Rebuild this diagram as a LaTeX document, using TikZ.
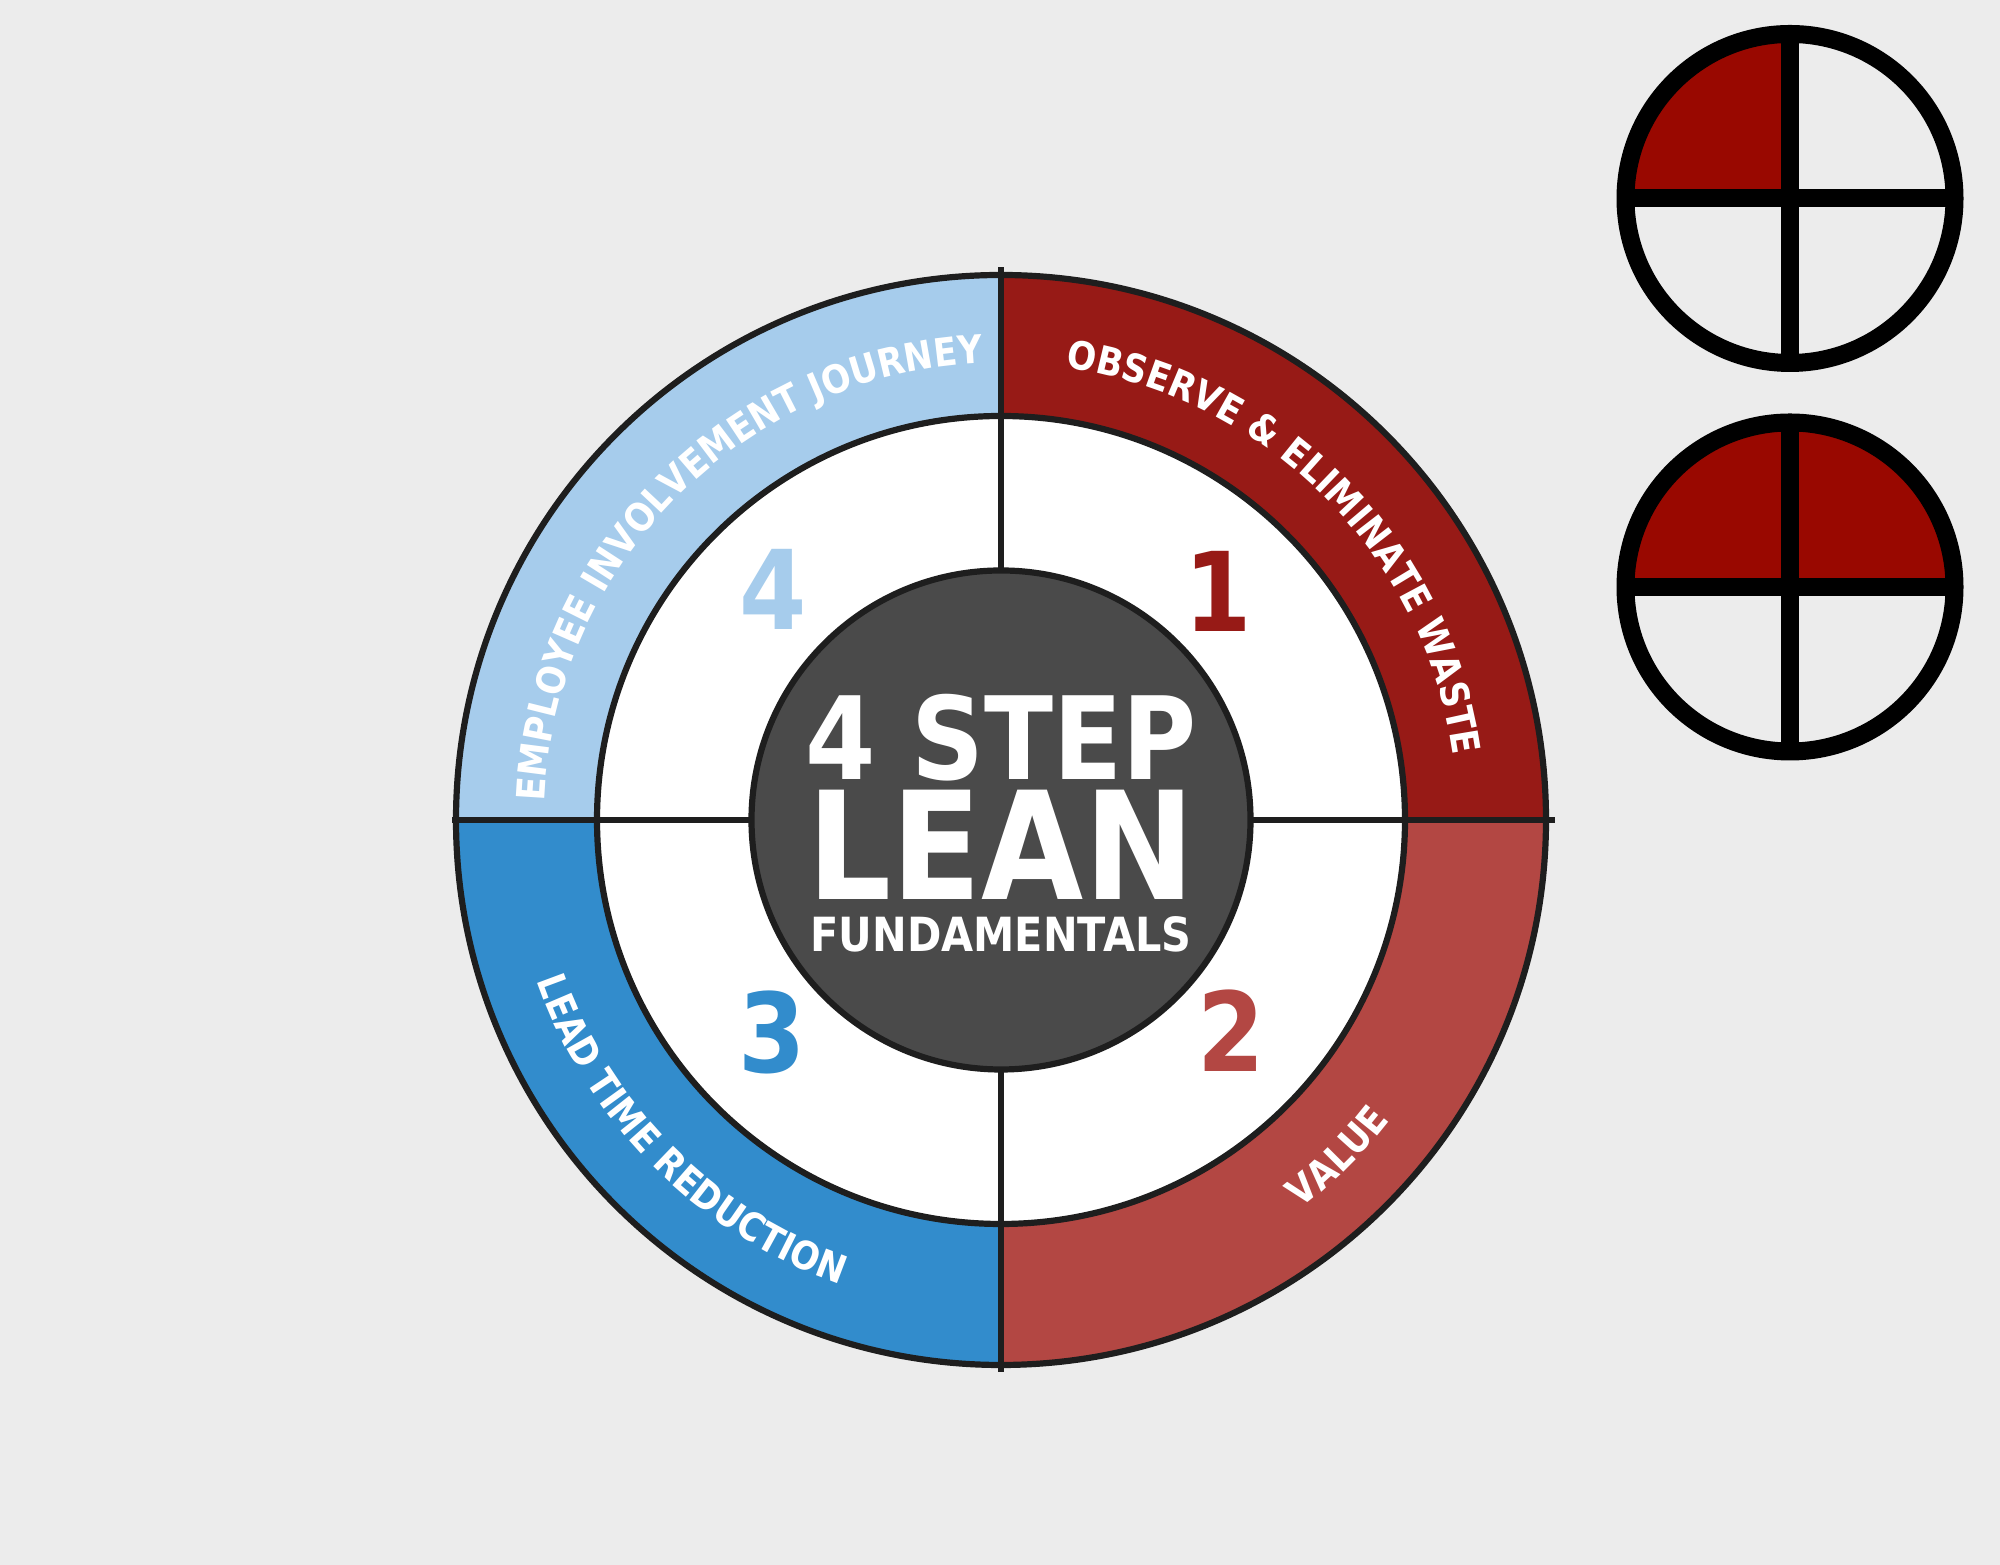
\documentclass[tikz,border=0pt]{standalone}
\definecolor{BackColor}{RGB}{236,236,236}
\definecolor{ObserveRed}{RGB}{151,26,22}
\definecolor{ValueRed}{RGB}{179,71,67}
\definecolor{LeadBlue}{RGB}{50,140,204}
\definecolor{JourneyBlue}{RGB}{166,204,236}
\definecolor{HubGray}{RGB}{74,74,74}
\definecolor{RimColor}{RGB}{30,30,30}
\definecolor{MarkRed}{RGB}{153,8,0}
\usepackage{fontspec}
\newfontfamily\leanfont[FakeStretch=0.88]{DejaVu Sans}
\usetikzlibrary{decorations.text}
\usetikzlibrary{calc}
\tikzstyle{rim} = [line width=0.062cm, RimColor]
\tikzstyle{marker} = [line width=0.18cm, black]
\tikzstyle{stepnum} = [inner sep=0pt, font=\leanfont\bfseries\fontsize{31.3}{31.3}\selectfont]
\tikzstyle{hubtext} = [inner sep=0pt, text=white]
\newcommand{\bandfont}{\leanfont\bfseries\fontsize{11.1}{11.1}\selectfont\color{white}}

\begin{document}
\begin{tikzpicture}
                \fill[BackColor] (0,0) rectangle (20,15.65);
                \coordinate (hub) at (10.01,7.45);

                % four coloured bands
                \foreach \a/\col in {0/ObserveRed, 270/ValueRed, 180/LeadBlue, 90/JourneyBlue} {
                    \fill[\col] (hub) -- ([shift={(\a:5.45)}]hub)
                         arc[start angle=\a, end angle=\a+90, radius=5.45] -- cycle;
                }
                \fill[white] (hub) circle (4.04);

                \draw[rim] ($(hub)+(-5.49,0)$) -- ($(hub)+(5.54,0)$);
                \draw[rim] ($(hub)+(0,-5.52)$) -- ($(hub)+(0,5.53)$);
                \draw[rim, fill=HubGray] (hub) circle (2.495);
                \draw[rim] (hub) circle (4.04);
                \draw[rim] (hub) circle (5.45);

                % band titles
                \path[decorate, decoration={text along path, text align=center,
                      text={|\bandfont|OBSERVE {\&} ELIMINATE WASTE}}]
                     ([shift={(90:4.57)}]hub) arc[start angle=90, end angle=0, radius=4.57];
                \path[decorate, decoration={text along path, text align=center,
                      text={|\bandfont|EMPLOYEE INVOLVEMENT JOURNEY}}]
                     ([shift={(180:4.57)}]hub) arc[start angle=180, end angle=90, radius=4.57];
                \path[decorate, decoration={text along path, text align=center,
                      text={|\bandfont|LEAD TIME REDUCTION}}]
                     ([shift={(180:4.91)}]hub) arc[start angle=180, end angle=270, radius=4.91];
                \path[decorate, decoration={text along path, text align=center,
                      text={|\bandfont|VALUE}}]
                     ([shift={(270:4.91)}]hub) arc[start angle=270, end angle=360, radius=4.91];

                % step numbers
                \foreach \n/\col/\x/\y in {1/ObserveRed/12.18/9.74, 2/ValueRed/12.31/5.34,
                                          3/LeadBlue/7.72/5.33, 4/JourneyBlue/7.73/9.76} {
                    \node[stepnum, text=\col] (step\n) at (\x,\y) {\n};
                }

                % title in the hub
                \node[hubtext, font=\leanfont\bfseries\fontsize{32.7}{32.7}\selectfont] (steps) at (10.01,8.27) {4 STEP};
                \node[hubtext, font=\leanfont\bfseries\fontsize{42.7}{42.7}\selectfont] (lean) at (10.01,7.20) {LEAN};
                \node[hubtext, font=\leanfont\bfseries\fontsize{13.4}{13.4}\selectfont] (fund) at (10.01,6.31) {FUNDAMENTALS};

                % progress markers
                \coordinate (markA) at (17.90,13.665);
                \coordinate (markB) at (17.90,9.78);
                \fill[MarkRed] (markA) -- ([shift={(180:1.645)}]markA)
                     arc[start angle=180, end angle=90, radius=1.645] -- cycle;
                \fill[MarkRed] ([shift={(0:1.645)}]markB)
                     arc[start angle=0, end angle=180, radius=1.645] -- cycle;
                \foreach \m in {markA, markB} {
                    \draw[marker] (\m) circle (1.645);
                    \draw[marker] ([xshift=-1.645cm]\m) -- ([xshift=1.645cm]\m);
                    \draw[marker] ([yshift=-1.645cm]\m) -- ([yshift=1.645cm]\m);
                }
            \end{tikzpicture}
\end{document}
